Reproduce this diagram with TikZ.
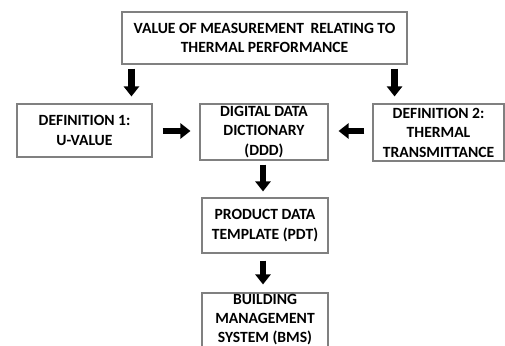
\documentclass[tikz,border=0pt]{standalone}
\usepackage{fontspec}
\setmainfont{Carlito}
\usetikzlibrary{arrows.meta,calc}

\definecolor{boxline}{HTML}{808080}

\tikzset{
  x=1pt, y=1pt,
  box/.style={draw=boxline, line width=1.1pt, fill=white, align=center,
    inner sep=0pt, font=\fontsize{15.6}{19.5}\selectfont\bfseries},
  boxtext/.style={align=center, inner sep=0pt,
    font=\fontsize{15.6}{19}\selectfont\bfseries},
  blockarrow/.style={line width=6.5pt, -{Triangle[length=10pt,width=15pt]}},
}

\begin{document}
\begin{tikzpicture}
  \useasboundingbox (0,0) rectangle (505,345);
  \clip (0,0) rectangle (505,345);

  % boxes
  \node[box, minimum width=285pt, minimum height=52pt] (top) at (264.5,307)
    {VALUE OF MEASUREMENT\hspace{3pt} RELATING TO\\THERMAL PERFORMANCE};
  \node[box, minimum width=135pt, minimum height=53pt] (d1) at (84.5,214.5)
    {DEFINITION 1:\\U-VALUE};
  \node[box, minimum width=128pt, minimum height=56pt] (ddd) at (264,213)
    {DIGITAL DATA\\DICTIONARY\\(DDD)};
  \node[box, minimum width=131pt, minimum height=57pt] (d2) at (438.5,212.5)
    {DEFINITION 2:\\THERMAL\\TRANSMITTANCE};
  \node[box, minimum width=126pt, minimum height=55pt] (pdt) at (265,119.5)
    {PRODUCT DATA\\TEMPLATE (PDT)};
  % the last box runs past the lower edge; its text sits a little high
  \node[box, minimum width=126pt, minimum height=57pt] (bms) at (265,23.5) {};
  \node[boxtext] (bmstext) at (265,25.5)
    {BUILDING\\MANAGEMENT\\SYSTEM (BMS)};

  % arrow end points
  \coordinate (a1) at ([xshift=10pt]top.south west);
  \coordinate (a2) at ([xshift=-13pt]top.south east);

  % connectors
  \draw[blockarrow, shorten <=4pt, shorten >=7pt] (a1) -- (a1 |- d1.north);
  \draw[blockarrow, shorten <=4pt, shorten >=7pt] (a2) -- (a2 |- d2.north);
  \draw[blockarrow, shorten <=10pt, shorten >=9pt] (d1.east |- 0,214) -- (ddd.west |- 0,214);
  \draw[blockarrow, shorten <=8pt, shorten >=10pt] (d2.west |- 0,214) -- (ddd.east |- 0,214);
  \draw[blockarrow, shorten <=4pt, shorten >=6pt] ([xshift=-1pt]ddd.south) -- ([xshift=-2pt]pdt.north);
  \draw[blockarrow, shorten <=7pt, shorten >=8pt] ([xshift=-2pt]pdt.south) -- ([xshift=-2pt]bms.north);
\end{tikzpicture}
\end{document}
